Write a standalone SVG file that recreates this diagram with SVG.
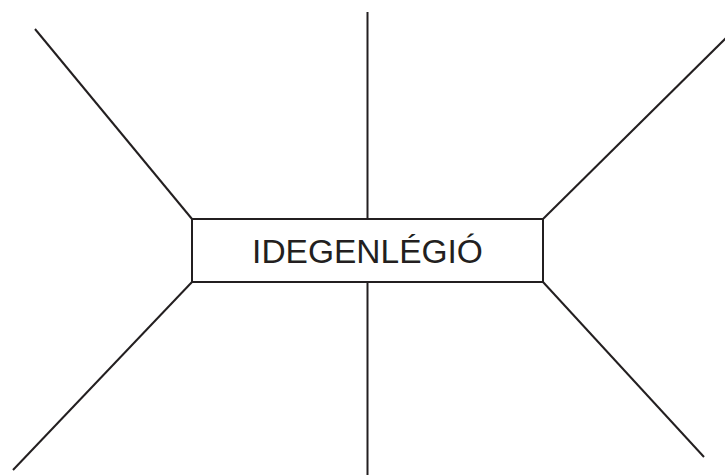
<svg xmlns="http://www.w3.org/2000/svg" width="725" height="475" viewBox="0 0 725 475">
<style>
.ln{stroke:#231f20;stroke-width:2;fill:none}
.box{stroke:#231f20;stroke-width:2;fill:#fff}
.lbl{font-family:"Liberation Sans",Arial,sans-serif;font-size:33.5px;fill:#231f20;text-anchor:middle}
</style>
<rect width="725" height="475" fill="#fff"/>
<g id="connectors">
<line class="ln" x1="35" y1="29" x2="192" y2="219"/>
<line class="ln" x1="726" y1="38" x2="543" y2="219"/>
<line class="ln" x1="13" y1="470" x2="192" y2="282"/>
<line class="ln" x1="704" y1="457" x2="543" y2="282"/>
<line class="ln" x1="367.5" y1="12" x2="367.5" y2="219"/>
<line class="ln" x1="367.5" y1="282" x2="367.5" y2="476"/>
</g>
<g id="node-idegenlegio">
<rect class="box" x="192" y="219" width="351" height="63"/>
<text class="lbl" x="367.5" y="263">IDEGENLÉGIÓ</text>
</g>
</svg>
